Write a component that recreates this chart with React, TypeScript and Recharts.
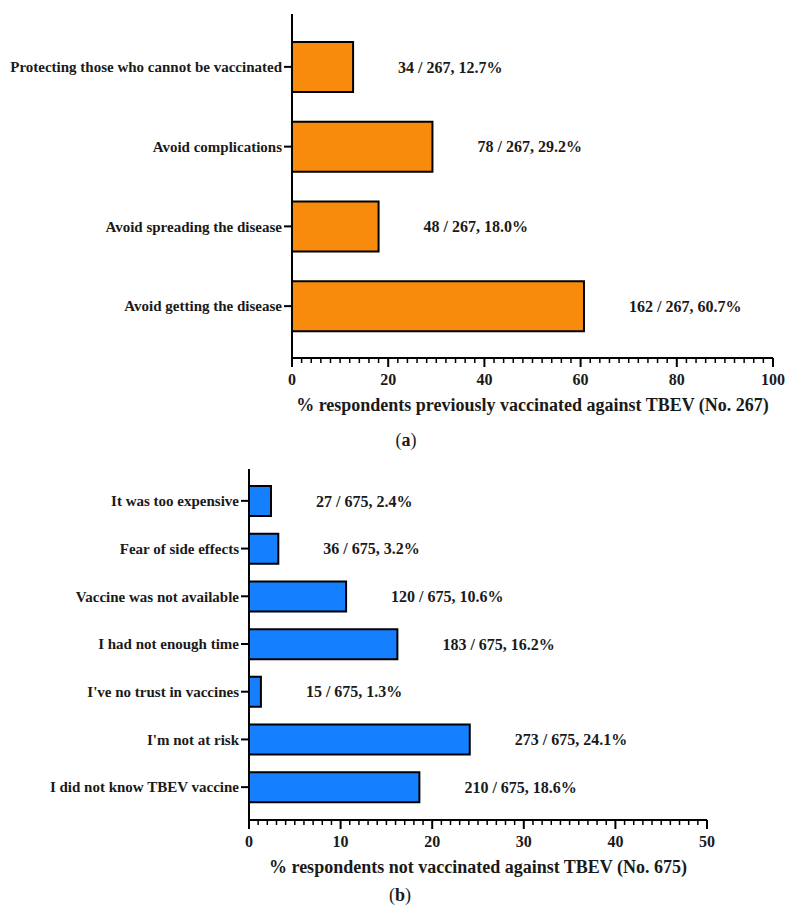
import { BarChart, Bar, XAxis, YAxis, LabelList } from 'recharts';

// (a) reasons for vaccination
const vaccinatedReasons = [
  'Protecting those who cannot be vaccinated',
  'Avoid complications',
  'Avoid spreading the disease',
  'Avoid getting the disease',
];
const vaccinatedCounts = [34, 78, 48, 162];
const vaccinatedPct = [12.7, 29.2, 18.0, 60.7];
const vaccinatedTotal = 267;
const vaccinatedTicks = [0, 20, 40, 60, 80, 100];

// (b) reasons for not vaccinating
const notVaccinatedReasons = [
  'It was too expensive',
  'Fear of side effects',
  'Vaccine was not available',
  'I had not enough time',
  "I've no trust in vaccines",
  "I'm not at risk",
  'I did not know TBEV vaccine',
];
const notVaccinatedCounts = [27, 36, 120, 183, 15, 273, 210];
const notVaccinatedPct = [2.4, 3.2, 10.6, 16.2, 1.3, 24.1, 18.6];
const notVaccinatedTotal = 675;
const notVaccinatedTicks = [0, 10, 20, 30, 40, 50];

const FONT = '"Liberation Serif", "Times New Roman", serif';
const INK = '#1a1a1a';

// 10 minor subdivisions between labelled ticks
const withMinor = (major: number[]) => {
  const step = (major[1] - major[0]) / 10;
  const out: number[] = [];
  for (let v = major[0]; v <= major[major.length - 1] + 1e-9; v += step) out.push(Math.round(v * 100) / 100);
  return out;
};

const XTick = ({ x, y, payload, major }: any) => {
  const isMajor = major.includes(payload.value);
  return (
    <g>
      <line x1={x} x2={x} y1={y} y2={y + (isMajor ? 9 : 5)} stroke="#000" strokeWidth={isMajor ? 2 : 1.5} />
      {isMajor && (
        <text x={x} y={y + 21} textAnchor="middle" dominantBaseline="central" fontFamily={FONT} fontWeight="bold" fontSize={16} fill={INK}>
          {payload.value}
        </text>
      )}
    </g>
  );
};

const ValueLabel = ({ x, y, width, height, value }: any) => (
  <text x={x + width + 45} y={y + height / 2} dominantBaseline="central" fontFamily={FONT} fontWeight="bold" fontSize={16} fill={INK}>
    {value}
  </text>
);

interface PanelProps {
  reasons: string[];
  counts: number[];
  pct: number[];
  total: number;
  ticks: number[];
  color: string;
  yAxisWidth: number;
  rightMargin: number;
  height: number;
  barSize: number;
  pad: { top: number; bottom: number };
  title: string;
}

function Panel({ reasons, counts, pct, total, ticks, color, yAxisWidth, rightMargin, height, barSize, pad, title }: PanelProps) {
  const data = reasons.map((r, i) => ({
    reason: r,
    value: pct[i],
    label: `${counts[i]} / ${total}, ${pct[i].toFixed(1)}%`,
  }));
  return (
    <BarChart width={793} height={height} data={data} layout="vertical" margin={{ top: 14, right: rightMargin, bottom: 32, left: 0 }}>
      <XAxis
        type="number"
        domain={[ticks[0], ticks[ticks.length - 1]]}
        ticks={withMinor(ticks)}
        interval={0}
        tickSize={0}
        tickMargin={0}
        tickLine={false}
        tick={<XTick major={ticks} />}
        axisLine={{ stroke: '#000', strokeWidth: 2 }}
        height={60}
        label={{ value: title, position: 'insideBottom', offset: 7, fontFamily: FONT, fontWeight: 'bold', fontSize: 18, fill: INK }}
      />
      <YAxis
        type="category"
        dataKey="reason"
        width={yAxisWidth}
        padding={pad}
        tickSize={8}
        tickMargin={2}
        tickLine={{ stroke: '#000', strokeWidth: 2 }}
        axisLine={{ stroke: '#000', strokeWidth: 2 }}
        tick={{ fontFamily: FONT, fontWeight: 'bold', fontSize: 15, fill: INK }}
        interval={0}
      />
      <Bar dataKey="value" fill={color} stroke="#000" strokeWidth={2} barSize={barSize} isAnimationActive={false}>
        <LabelList dataKey="label" content={<ValueLabel />} />
      </Bar>
    </BarChart>
  );
}

const caption = (letter: string, left: number, top: number) => (
  <div
    style={{
      position: 'absolute',
      left,
      top,
      transform: 'translate(-50%, -50%)',
      fontFamily: FONT,
      fontSize: 18,
      color: INK,
    }}
  >
    (<b>{letter}</b>)
  </div>
);

export default function App() {
  return (
    <div style={{ position: 'absolute', left: 0, top: 0, width: 793, height: 917, background: '#fff' }}>
      <div style={{ position: 'absolute', left: 0, top: 0 }}>
        <Panel
          reasons={vaccinatedReasons}
          counts={vaccinatedCounts}
          pct={vaccinatedPct}
          total={vaccinatedTotal}
          ticks={vaccinatedTicks}
          color="#F98B0C"
          yAxisWidth={292}
          rightMargin={20}
          height={450}
          barSize={50}
          pad={{ top: 13, bottom: 12 }}
          title="% respondents previously vaccinated against TBEV (No. 267)"
        />
      </div>
      {caption('a', 406, 440)}
      <div style={{ position: 'absolute', left: 0, top: 455 }}>
        <Panel
          reasons={notVaccinatedReasons}
          counts={notVaccinatedCounts}
          pct={notVaccinatedPct}
          total={notVaccinatedTotal}
          ticks={notVaccinatedTicks}
          color="#1580FF"
          yAxisWidth={249}
          rightMargin={86}
          height={457}
          barSize={30}
          pad={{ top: 8, bottom: 9 }}
          title="% respondents not vaccinated against TBEV (No. 675)"
        />
      </div>
      {caption('b', 400, 895)}
    </div>
  );
}
